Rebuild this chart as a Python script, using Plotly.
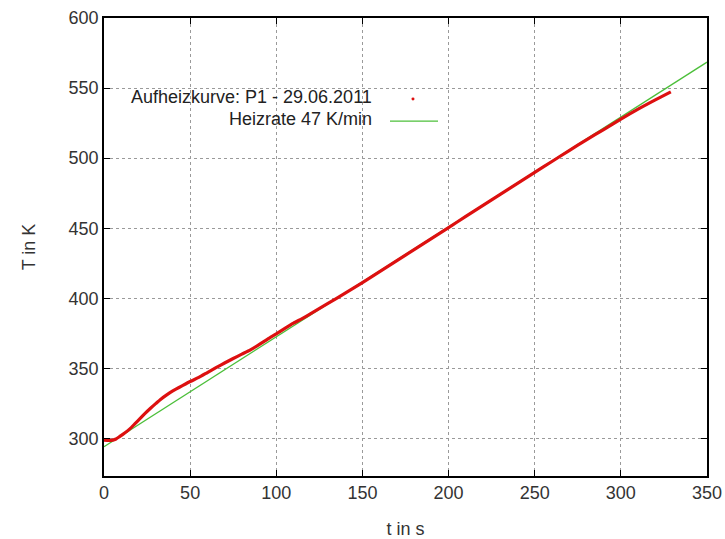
import plotly.graph_objects as go

# Measured heating curve (red dots)
red_t = [0, 3, 5, 7, 9, 12, 15, 18, 21, 24, 27, 30, 33, 36, 39, 42, 45, 50, 55, 60,
         65, 70, 75, 80, 85, 90, 95, 100, 105, 110, 115, 120, 130, 140, 150, 160,
         170, 180, 190, 200, 210, 220, 230, 240, 250, 260, 270, 280, 290, 300,
         310, 320, 329]
red_T = [298.8, 298.6, 298.8, 299.6, 301.2, 303.8, 306.8, 310.5, 314.2, 318.0,
         321.5, 324.8, 328.0, 330.7, 333.2, 335.3, 337.3, 340.6, 343.5, 347.0,
         350.5, 353.8, 357.0, 360.1, 363.2, 366.9, 370.9, 374.6, 378.5, 382.2,
         385.5, 389.0, 396.3, 403.6, 411.2, 419.0, 426.9, 434.7, 442.6, 450.4,
         458.4, 466.3, 474.2, 482.0, 489.8, 497.6, 505.4, 513.0, 520.4, 527.9,
         535.0, 541.6, 547.3]

# Heating rate line 47 K/min (green)
green_t = [0, 350]
green_T = [294.0, 568.5]

x_ticks = [0, 50, 100, 150, 200, 250, 300, 350]
y_ticks = [300, 350, 400, 450, 500, 550, 600]

legend_labels = ["Aufheizkurve: P1 - 29.06.2011", "Heizrate 47 K/min"]

RED = "#dd1010"
GREEN = "#4cbf3a"
FONT = "Liberation Sans, Arial, sans-serif"
FS = 18

fig = go.Figure()
fig.add_trace(go.Scatter(x=green_t, y=green_T, mode="lines",
                         line=dict(color=GREEN, width=1.3), showlegend=False))
fig.add_trace(go.Scatter(x=red_t, y=red_T, mode="lines",
                         line=dict(color=RED, width=3.2, shape="spline", smoothing=0.6),
                         showlegend=False))

axis_common = dict(
    showline=True, linecolor="black", linewidth=1.5, mirror="ticks",
    ticks="inside", ticklen=6, tickwidth=1.2, tickcolor="black",
    showgrid=True, gridcolor="#9a9a9a", griddash="dot", gridwidth=1,
    zeroline=False, automargin=False,
    tickfont=dict(family=FONT, size=FS, color="#333"),
)

fig.update_xaxes(range=[0, 350], tickvals=x_ticks,
                 title=dict(text="t in s", font=dict(family=FONT, size=FS, color="#333"), standoff=24),
                 **axis_common)
fig.update_yaxes(range=[273.15, 600], tickvals=y_ticks,
                 title=dict(text="T in K", font=dict(family=FONT, size=FS, color="#333"), standoff=28),
                 **axis_common)

# Legend drawn gnuplot-style (text right-aligned, sample to the right)
fig.add_annotation(x=0.4478, y=0.8275, xref="paper", yref="paper", xanchor="right",
                   yanchor="middle", text=legend_labels[0], showarrow=False,
                   font=dict(family=FONT, size=FS, color="#222"))
fig.add_annotation(x=0.4478, y=0.7795, xref="paper", yref="paper", xanchor="right",
                   yanchor="middle", text=legend_labels[1], showarrow=False,
                   font=dict(family=FONT, size=FS, color="#222"))
fig.add_shape(type="circle", xref="paper", yref="paper",
              x0=0.5099, x1=0.5149, y0=0.8198, y1=0.8262,
              fillcolor=RED, line=dict(color=RED, width=0))
fig.add_shape(type="line", xref="paper", yref="paper",
              x0=0.4743, x1=0.5539, y0=0.775, y1=0.775,
              line=dict(color=GREEN, width=1.3))

fig.update_layout(
    width=725, height=539,
    margin=dict(l=104, r=18, t=18, b=63),
    paper_bgcolor="white", plot_bgcolor="white",
    font=dict(family=FONT),
)

fig.write_html("out.html")
